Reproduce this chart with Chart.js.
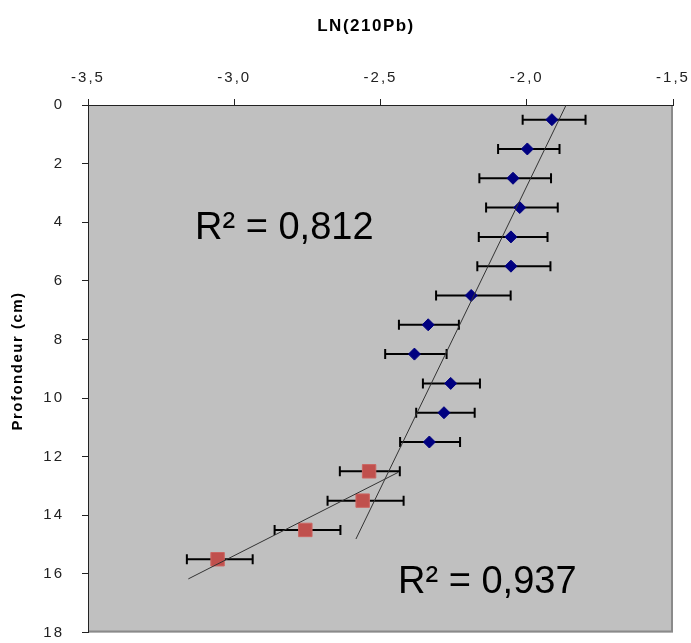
<!DOCTYPE html>
<html>
<head>
<meta charset="utf-8">
<title>LN(210Pb) – Profondeur</title>
<script src="https://cdn.jsdelivr.net/npm/chart.js@4.4.1/dist/chart.umd.min.js"></script>
<style>
  html, body { margin: 0; padding: 0; background: #ffffff; }
  #wrap { position: relative; width: 691px; height: 643px; }
</style>
</head>
<body>
<div id="wrap"><canvas id="pbChart"></canvas></div>
<script>
// ── Upper core section (diamonds) ──
var depthUpper = [0.5, 1.5, 2.5, 3.5, 4.5, 5.5, 6.5, 7.5, 8.5, 9.5, 10.5, 11.5];
var lnUpper    = [-1.914, -1.998, -2.047, -2.024, -2.054, -2.054, -2.190, -2.337, -2.384, -2.260, -2.283, -2.333];
var errLoUpper = [0.100, 0.100, 0.115, 0.115, 0.110, 0.115, 0.120, 0.100, 0.100, 0.095, 0.095, 0.100];
var errHiUpper = [0.115, 0.110, 0.130, 0.130, 0.125, 0.135, 0.135, 0.105, 0.110, 0.100, 0.105, 0.105];

// ── Lower core section (squares) ──
var depthLower = [12.5, 13.5, 14.5, 15.5];
var lnLower    = [-2.539, -2.561, -2.757, -3.057];
var errLoLower = [0.100, 0.120, 0.105, 0.105];
var errHiLower = [0.105, 0.140, 0.120, 0.120];

// ── Axis ranges, titles and fit labels ──
var xRange = [-3.5, -1.5];
var yRange = [0, 18];
var xTitle = 'LN(210Pb)';
var yTitle = 'Profondeur (cm)';
var r2Upper = 'R² = 0,812';
var r2Lower = 'R² = 0,937';

(function () {
  'use strict';

  var FONT = "'Liberation Sans', Arial, sans-serif";
  var BLUE = '#000080';
  var RED = '#C0504D';
  var AXIS_SPACING = '2px';

  // least squares depth = a * ln + b, extended like a spreadsheet trendline
  function trend(xs, ys, back, fwd) {
    var n = xs.length, mx = 0, my = 0, sxy = 0, sxx = 0, i;
    for (i = 0; i < n; i++) { mx += xs[i]; my += ys[i]; }
    mx /= n; my /= n;
    for (i = 0; i < n; i++) {
      sxy += (xs[i] - mx) * (ys[i] - my);
      sxx += (xs[i] - mx) * (xs[i] - mx);
    }
    var a = sxy / sxx, b = my - a * mx;
    var x0 = Math.min.apply(null, xs) - back;
    var x1 = Math.max.apply(null, xs) + fwd;
    return [{ x: x0, y: a * x0 + b }, { x: x1, y: a * x1 + b }];
  }

  function points(xs, ys) {
    return xs.map(function (x, i) { return { x: x, y: ys[i] }; });
  }

  // ── Wider axis text (canvas resets state on resize, so set it each pass) ──
  var axisText = {
    id: 'axisText',
    beforeLayout: function (chart) { chart.ctx.letterSpacing = AXIS_SPACING; },
    beforeDraw: function (chart) { chart.ctx.letterSpacing = AXIS_SPACING; }
  };

  // ── Plot area fill + right/bottom frame ──
  var plotArea = {
    id: 'plotArea',
    beforeDraw: function (chart) {
      var a = chart.chartArea, c = chart.ctx;
      c.save();
      c.fillStyle = '#C0C0C0';
      c.fillRect(a.left, a.top, a.right - a.left, a.bottom - a.top);
      c.strokeStyle = '#8a8a8a';
      c.lineWidth = 2;
      c.beginPath();
      c.moveTo(a.right - 1, a.top);
      c.lineTo(a.right - 1, a.bottom - 1);
      c.lineTo(a.left, a.bottom - 1);
      c.stroke();
      c.restore();
    }
  };

  // ── Axis titles, drawn by hand so the x title sits a bit left of centre ──
  var axisTitles = {
    id: 'axisTitles',
    afterDraw: function (chart) {
      var a = chart.chartArea, c = chart.ctx;
      c.save();
      c.fillStyle = '#000';
      c.textAlign = 'center';
      c.textBaseline = 'middle';
      c.letterSpacing = '1.5px';
      c.font = 'bold 17px ' + FONT;
      c.fillText(xTitle, a.left + 278, 26);
      c.font = 'bold 15px ' + FONT;
      c.translate(18, a.top + 256);
      c.rotate(-Math.PI / 2);
      c.fillText(yTitle, 0, 0);
      c.restore();
    }
  };

  // ── Horizontal error bars, drawn under each marker series ──
  var errorBars = {
    id: 'errorBars',
    beforeDatasetDraw: function (chart, args) {
      var ds = chart.data.datasets[args.index];
      if (!ds.errLo) return;
      var xs = chart.scales.x, ys = chart.scales.y, c = chart.ctx;
      c.save();
      c.strokeStyle = '#000';
      c.lineWidth = 2;
      ds.data.forEach(function (p, i) {
        var xl = xs.getPixelForValue(p.x - ds.errLo[i]);
        var xr = xs.getPixelForValue(p.x + ds.errHi[i]);
        var y = ys.getPixelForValue(p.y);
        c.beginPath();
        c.moveTo(xl, y); c.lineTo(xr, y);
        c.moveTo(xl, y - 5); c.lineTo(xl, y + 5);
        c.moveTo(xr, y - 5); c.lineTo(xr, y + 5);
        c.stroke();
      });
      c.restore();
    }
  };

  // ── R² annotations placed in data space ──
  var fitLabels = {
    id: 'fitLabels',
    afterDatasetsDraw: function (chart) {
      var xs = chart.scales.x, ys = chart.scales.y, c = chart.ctx;
      c.save();
      c.letterSpacing = '0px';
      c.fillStyle = '#000';
      c.font = '38px ' + FONT;
      c.textAlign = 'left';
      c.textBaseline = 'alphabetic';
      c.fillText(r2Upper, xs.getPixelForValue(-3.134), ys.getPixelForValue(4.58));
      c.fillText(r2Lower, xs.getPixelForValue(-2.440), ys.getPixelForValue(16.64));
      c.restore();
    }
  };

  var ctx = document.getElementById('pbChart').getContext('2d');

  new Chart(ctx, {
    type: 'scatter',
    data: {
      datasets: [
        {
          type: 'line',
          data: trend(lnUpper, depthUpper, 0.2, 0.1),
          borderColor: '#333',
          borderWidth: 1,
          pointRadius: 0,
          fill: false
        },
        {
          type: 'line',
          data: trend(lnLower, depthLower, 0.1, 0.1),
          borderColor: '#333',
          borderWidth: 1,
          pointRadius: 0,
          fill: false
        },
        {
          data: points(lnUpper, depthUpper),
          errLo: errLoUpper,
          errHi: errHiUpper,
          pointStyle: 'rectRot',
          pointRadius: 6,
          backgroundColor: BLUE,
          borderColor: BLUE,
          borderWidth: 1
        },
        {
          data: points(lnLower, depthLower),
          errLo: errLoLower,
          errHi: errHiLower,
          pointStyle: 'rect',
          pointRadius: 9.5,
          backgroundColor: RED,
          borderColor: '#CC6662',
          borderWidth: 1
        }
      ]
    },
    options: {
      responsive: true,
      maintainAspectRatio: false,
      animation: false,
      layout: { padding: { top: 0, left: 0, right: 18, bottom: 7 } },
      plugins: { legend: { display: false }, tooltip: { enabled: false } },
      scales: {
        x: {
          type: 'linear',
          position: 'top',
          min: xRange[0],
          max: xRange[1],
          afterFit: function (s) { s.height = 105; s.paddingLeft = 0; s.paddingRight = 0; },
          border: { color: '#222', width: 1 },
          grid: { drawOnChartArea: false, drawTicks: true, tickLength: 6, tickColor: '#222' },
          ticks: {
            stepSize: 0.5,
            padding: 12,
            color: '#222',
            font: { family: FONT, size: 15 },
            callback: function (v) { return v.toFixed(1).replace('.', ','); }
          },
          title: { display: false }
        },
        y: {
          type: 'linear',
          reverse: true,
          min: yRange[0],
          max: yRange[1],
          afterFit: function (s) { s.width = 88; s.paddingTop = 0; s.paddingBottom = 0; },
          border: { color: '#222', width: 1 },
          grid: { drawOnChartArea: false, drawTicks: true, tickLength: 6, tickColor: '#222' },
          ticks: {
            stepSize: 2,
            padding: 18,
            color: '#222',
            font: { family: FONT, size: 15 }
          },
          title: { display: false }
        }
      }
    },
    plugins: [axisText, plotArea, axisTitles, errorBars, fitLabels]
  });
})();
</script>
</body>
</html>
